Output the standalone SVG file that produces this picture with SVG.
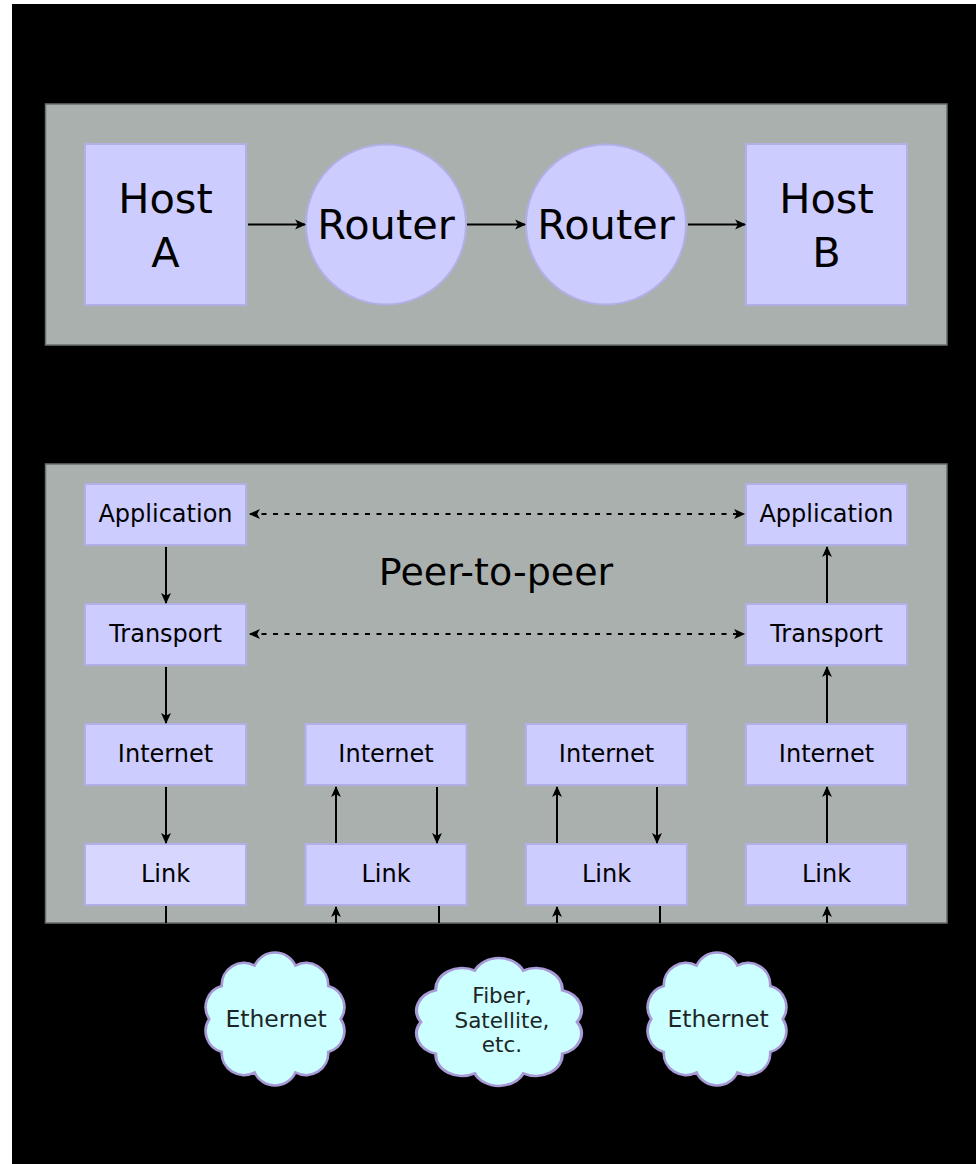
<svg xmlns="http://www.w3.org/2000/svg" width="976" height="1164" viewBox="0 0 976 1164">
<style>
.panel{fill:#aab0ae;stroke:#6a6e6d;stroke-width:1.5}
.node{fill:#ccccff;stroke:#b0b0e6;stroke-width:2}
.t{font-family:"DejaVu Sans",sans-serif;fill:#000;text-anchor:middle}
.big{font-size:41.5px}
.mid{font-size:24px}
.ct{font-family:"DejaVu Sans",sans-serif;font-size:23.5px;fill:#1d2626;text-anchor:middle}
.ct2{font-family:"DejaVu Sans",sans-serif;font-size:21.5px;fill:#1d2626;text-anchor:middle}
.cloud{fill:#ccffff;stroke:#a89ad6;stroke-width:2.5}
.ln{stroke:#000;stroke-width:2;fill:none}
.arr{marker-end:url(#ah)}
.dot{stroke:#000;stroke-width:2;fill:none;stroke-dasharray:5 6.5;marker-start:url(#ah);marker-end:url(#ah)}
</style>
<defs>
<marker id="ah" viewBox="0 0 10 10" refX="9" refY="5" markerWidth="12" markerHeight="11" markerUnits="userSpaceOnUse" orient="auto-start-reverse">
<path d="M0,0.5 L10,5 L0,9.5 L2.5,5 z" fill="#000"/>
</marker>
<path id="cl" d="M62,0 A21,21 0 0 1 50.2,31.7 A21,21 0 0 1 19.2,51.4 A21,21 0 0 1 -19.2,51.4 A21,21 0 0 1 -50.2,31.7 A21,21 0 0 1 -62,0 A21,21 0 0 1 -50.2,-31.7 A21,21 0 0 1 -19.2,-51.4 A21,21 0 0 1 19.2,-51.4 A21,21 0 0 1 50.2,-31.7 A21,21 0 0 1 62,0 z"/>
</defs>
<rect x="0" y="0" width="976" height="1164" fill="#fff"/>
<rect x="12" y="4" width="964" height="1160" fill="#000"/>
<rect class="panel" x="45.5" y="104" width="901.5" height="241"/>
<rect class="panel" x="45.5" y="464" width="901.5" height="459"/>

<g id="hostA"><rect class="node" x="85" y="144" width="161" height="161"/><text class="t big" x="165.5" y="213">Host</text><text class="t big" x="165.5" y="267">A</text></g>
<g id="router1"><circle class="node" cx="386" cy="224.5" r="80"/><text class="t big" x="386" y="239">Router</text></g>
<g id="router2"><circle class="node" cx="606" cy="224.5" r="80"/><text class="t big" x="606" y="239">Router</text></g>
<g id="hostB"><rect class="node" x="746" y="144" width="161" height="161"/><text class="t big" x="826.5" y="213">Host</text><text class="t big" x="826.5" y="267">B</text></g>

<text id="p2p" class="t" style="font-size:38px" x="496" y="585">Peer-to-peer</text>

<g id="app1"><rect class="node" x="85" y="484" width="161" height="61"/><text class="t mid" x="165.5" y="522">Application</text></g>
<g id="trans1"><rect class="node" x="85" y="604" width="161" height="61"/><text class="t mid" x="165.5" y="642">Transport</text></g>
<g id="inet1"><rect class="node" x="85" y="724" width="161" height="61"/><text class="t mid" x="165.5" y="762">Internet</text></g>
<g id="link1"><rect class="node" x="85" y="844" width="161" height="61" style="fill:#d6d6ff"/><text class="t mid" x="165.5" y="882">Link</text></g>

<g id="inet2"><rect class="node" x="305.5" y="724" width="161" height="61"/><text class="t mid" x="386" y="762">Internet</text></g>
<g id="link2"><rect class="node" x="305.5" y="844" width="161" height="61"/><text class="t mid" x="386" y="882">Link</text></g>

<g id="inet3"><rect class="node" x="526" y="724" width="161" height="61"/><text class="t mid" x="606.5" y="762">Internet</text></g>
<g id="link3"><rect class="node" x="526" y="844" width="161" height="61"/><text class="t mid" x="606.5" y="882">Link</text></g>

<g id="app4"><rect class="node" x="746" y="484" width="161" height="61"/><text class="t mid" x="826.5" y="522">Application</text></g>
<g id="trans4"><rect class="node" x="746" y="604" width="161" height="61"/><text class="t mid" x="826.5" y="642">Transport</text></g>
<g id="inet4"><rect class="node" x="746" y="724" width="161" height="61"/><text class="t mid" x="826.5" y="762">Internet</text></g>
<g id="link4"><rect class="node" x="746" y="844" width="161" height="61"/><text class="t mid" x="826.5" y="882">Link</text></g>

<g id="cloud1"><use href="#cl" class="cloud" transform="translate(275,1019) scale(1.06,1.04)" style="vector-effect:non-scaling-stroke"/><text class="ct" x="276" y="1027">Ethernet</text></g>
<g id="cloud2"><use href="#cl" class="cloud" transform="translate(499,1022) scale(1.26,1.0)" style="vector-effect:non-scaling-stroke"/><text class="ct2" x="502" y="1003">Fiber,</text><text class="ct2" x="502" y="1028">Satellite,</text><text class="ct2" x="502" y="1052">etc.</text></g>
<g id="cloud3"><use href="#cl" class="cloud" transform="translate(717,1019) scale(1.06,1.04)" style="vector-effect:non-scaling-stroke"/><text class="ct" x="718" y="1027">Ethernet</text></g>

<g id="connectors">
<line class="ln arr" x1="248" y1="224.5" x2="305" y2="224.5"/>
<line class="ln arr" x1="467" y1="224.5" x2="525" y2="224.5"/>
<line class="ln arr" x1="688" y1="224.5" x2="745" y2="224.5"/>

<line class="dot" x1="250" y1="514" x2="744" y2="514"/>
<line class="dot" x1="250" y1="634" x2="744" y2="634"/>

<line class="ln arr" x1="166" y1="547" x2="166" y2="603"/>
<line class="ln arr" x1="166" y1="667" x2="166" y2="723"/>
<line class="ln arr" x1="166" y1="787" x2="166" y2="843"/>
<line class="ln" x1="166" y1="906" x2="166" y2="923"/>

<line class="ln arr" x1="336" y1="843" x2="336" y2="787"/>
<line class="ln arr" x1="437" y1="787" x2="437" y2="843"/>
<line class="ln arr" x1="336" y1="923" x2="336" y2="907"/>
<line class="ln" x1="439" y1="906" x2="439" y2="923"/>

<line class="ln arr" x1="557" y1="843" x2="557" y2="787"/>
<line class="ln arr" x1="657" y1="787" x2="657" y2="843"/>
<line class="ln arr" x1="557" y1="923" x2="557" y2="907"/>
<line class="ln" x1="660" y1="906" x2="660" y2="923"/>

<line class="ln arr" x1="827" y1="843" x2="827" y2="787"/>
<line class="ln arr" x1="827" y1="723" x2="827" y2="667"/>
<line class="ln arr" x1="827" y1="603" x2="827" y2="547"/>
<line class="ln arr" x1="827" y1="923" x2="827" y2="907"/>
</g>
</svg>
